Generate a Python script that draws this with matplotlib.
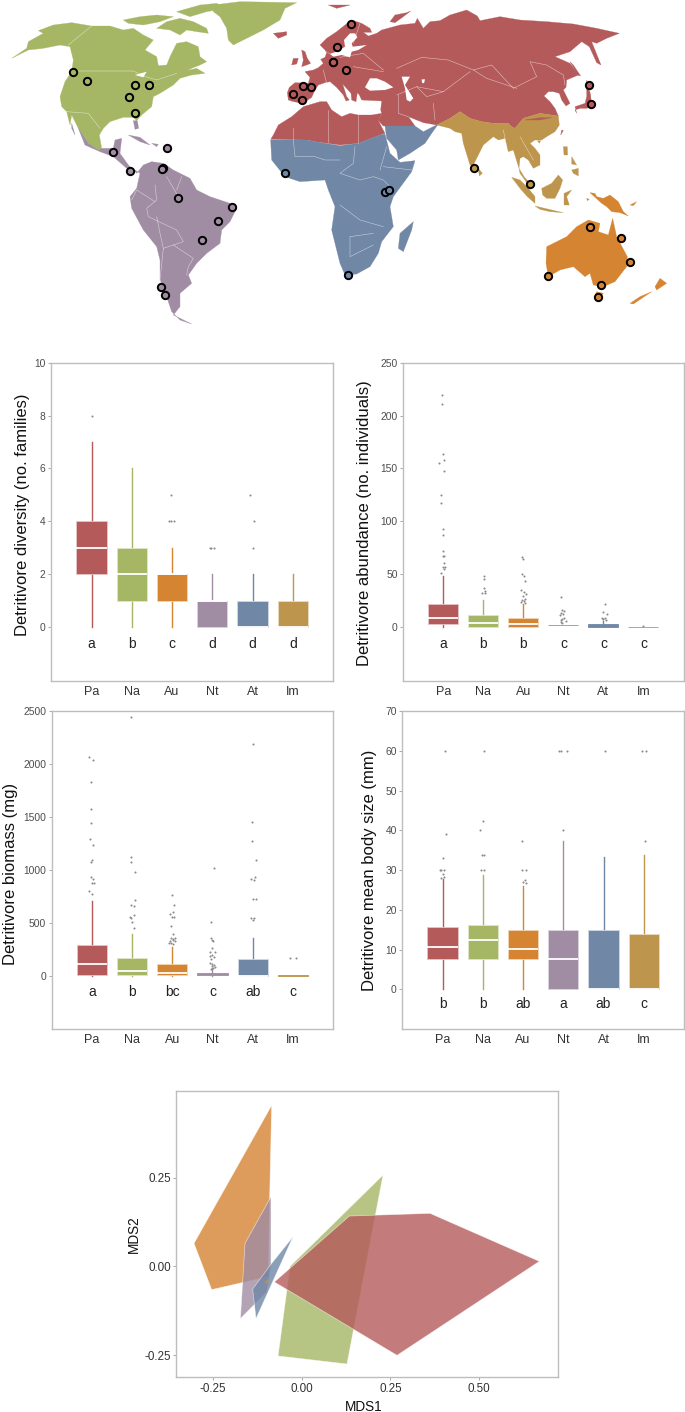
import matplotlib
matplotlib.use("Agg")
import matplotlib.pyplot as plt
from matplotlib.patches import Polygon

plt.rcParams["font.family"] = ["Liberation Sans", "DejaVu Sans"]

FIG_W, FIG_H = 685, 1412

realms = ["Pa", "Na", "Au", "Nt", "At", "Im"]
colors = {"Pa": "#B55A5A", "Na": "#A5B765", "Au": "#D58432",
          "Nt": "#A08CA3", "At": "#7087A6", "Im": "#BD954C"}
tints = {"Pa": "#E7C6C6", "Na": "#E0E6C8", "Au": "#F1D3B4",
         "Nt": "#DCD4DE", "At": "#D0D8E3", "Im": "#EADCC0"}

# box stats per realm: q1, median, q3, whisker low, whisker high
div_stats = [(2, 3, 4, 0, 7), (1, 2, 3, 0, 6), (1, 2, 2, 0, 3),
             (0, 1, 1, 0, 2), (0, 0, 1, 0, 2), (0, 0, 1, 0, 2)]
abu_stats = [(3, 9, 21.5, 0, 48), (0.5, 4, 11.5, 0, 25.5), (0.5, 3, 9, 0, 22),
             (1.6, 1.6, 2, 1.6, 2), (0.5, 1, 2.5, 0, 6), (0, 0, 0.2, 0, 0.2)]
bio_stats = [(10, 115, 288, 0, 710), (5, 48, 165, 0, 395), (5, 28, 112, 0, 275),
             (10, 18, 28, 0, 70), (0, 2, 160, 0, 360), (0, 0, 8, 0, 8)]
siz_stats = [(7.6, 10.7, 15.6, 0, 27.8), (7.6, 12.4, 16.3, 0, 28.7), (7.6, 10.1, 15, 0, 26.1),
             (0, 7.6, 15, 0, 37.4), (0, 0.2, 15, 0, 33.2), (0, 0, 13.9, 0, 33.7)]

# outliers per realm: (jitter offset, value)
div_out = [[(0, 8)], [],
           [(-0.02, 5), (-0.07, 4), (-0.02, 4), (0.04, 4)],
           [(-0.06, 3), (-0.02, 3), (0.04, 3)],
           [(-0.07, 5), (0.04, 4), (0, 3)], []]
abu_out = [[(-.042, 219), (-.033, 211), (0, 164), (.008, 158), (-.1, 155), (.008, 148), (-.067, 125),
            (-.067, 117), (0, 93), (0, 87), (-.017, 72), (0, 67), (.025, 67), (.017, 61), (-.058, 51),
            (-.017, 57), (.042, 57), (.017, 55)],
           [(.008, 48), (.008, 45), (.008, 37), (.033, 34), (-.025, 32), (.042, 32)],
           [(-.042, 66), (0, 64), (-.042, 50), (.008, 48), (.05, 44), (-.067, 35), (.017, 33), (.067, 31),
            (-.017, 29), (.042, 27), (-.042, 26), (.017, 25), (-.058, 24), (.05, 23)],
           [(-.05, 28), (-.025, 16), (.025, 15), (-.067, 13), (0, 12), (-.083, 11), (-.042, 8), (.017, 9),
            (-.067, 7), (.058, 6), (-.05, 5), (-.025, 3.5)],
           [(.042, 22), (0, 14), (.1, 12), (-.042, 9), (.042, 9), (0, 8), (.067, 7)],
           [(0, 1.3)]]
bio_out = [[(-.075, 2069), (.017, 2043), (-.033, 1829), (-.017, 1574), (-.025, 1448), (-.042, 1294),
            (.033, 1237), (.008, 1099), (-.017, 1080), (-.017, 938), (.017, 916), (.008, 875), (.058, 875),
            (-.083, 803), (0, 771)],
           [(-.025, 2443), (-.033, 1121), (-.033, 1074), (.083, 979), (-.025, 671), (.083, 712), (.042, 658),
            (-.058, 560), (.042, 576), (-.033, 548), (0, 507), (.042, 453)],
           [(0, 765), (.05, 671), (.008, 601), (-.058, 586), (-.017, 560), (.033, 554), (-.033, 466), (.025, 394),
            (-.042, 356), (.017, 349), (.067, 356), (-.05, 324), (.008, 334), (.067, 324), (-.092, 309),
            (-.025, 309), (.025, 299)],
           [(.042, 1017), (-.025, 507), (-.042, 356), (-.008, 340), (.008, 324), (0, 261), (-.05, 220), (.067, 220),
            (-.058, 183), (-.008, 198), (.05, 176), (-.025, 157), (-.058, 120), (0, 110), (.042, 98), (-.017, 88),
            (.067, 82), (-.033, 63), (.025, 72)],
           [(.017, 2191), (-.008, 1458), (-.008, 1275), (.075, 1093), (.05, 932), (-.033, 913), (.033, 907),
            (.017, 727), (.075, 721), (-.033, 545), (.025, 545), (0, 523)],
           [(-.058, 167), (.067, 167)]]
siz_out = [[(.05, 60), (.083, 39), (.017, 33), (-.075, 30), (-.033, 30), (.033, 30), (0, 29), (.025, 28.4), (-.042, 28)],
           [(.042, 60), (.008, 42.5), (-.058, 40), (-.025, 33.7), (.042, 33.7), (-.033, 30), (.042, 30)],
           [(-.017, 37.4), (-.033, 30), (.075, 30), (0, 27), (.058, 27.4), (.083, 26.8)],
           [(-.1, 60), (-.058, 60), (.083, 60), (-.017, 40)],
           [(.033, 60)],
           [(-.033, 60), (.067, 60), (.025, 37.4)]]

div_letters = ["a", "b", "c", "d", "d", "d"]
abu_letters = ["a", "b", "b", "c", "c", "c"]
bio_letters = ["a", "b", "bc", "c", "ab", "c"]
siz_letters = ["b", "b", "ab", "a", "ab", "c"]

# MDS hulls
mds_au = [(-0.0846, 0.454), (-0.3036, 0.0648), (-0.2538, -0.0658), (-0.094, -0.029), (-0.0902, 0.1945)]
mds_nt = [(-0.0865, 0.1964), (-0.1598, 0.0648), (-0.1729, -0.1476), (-0.0987, -0.0724), (-0.0865, -0.0009)]
mds_at = [(-0.0244, 0.0836), (-0.0846, 0.0085), (-0.1382, -0.0639), (-0.1288, -0.1476), (-0.0893, -0.06)]
mds_im = [(-0.106, -0.046), (-0.094, -0.036), (-0.09, -0.04), (-0.102, -0.049)]
mds_na = [(0.2293, 0.2575), (-0.0329, 0.0), (-0.0667, -0.2528), (0.1278, -0.2754)]
mds_pa = [(-0.0771, -0.0442), (0.1344, 0.1419), (0.3618, 0.1494), (0.6701, 0.0141), (0.2688, -0.2509)]

# map outlines, traced at 3x the picture
# west_ starts at px (0, 0), nam_ at (10, 0), east_ at (340, 0), sea_ at (440, 90)
nam_main = [(5, 175), (50, 145), (55, 125), (100, 100), (85, 92), (130, 75), (185, 68), (245, 78), (300, 78), (340, 90),
            (370, 85), (400, 105), (430, 120), (405, 150), (440, 170), (445, 197), (470, 195), (480, 170), (500, 130),
            (530, 125), (565, 140), (570, 170), (590, 185), (570, 195), (545, 205), (530, 212), (515, 215), (560, 205),
            (585, 220), (545, 225), (510, 235), (490, 255), (450, 280), (430, 290), (425, 320), (395, 345), (380, 362),
            (370, 352), (340, 352), (300, 365), (280, 385), (268, 405), (275, 445), (265, 450), (235, 430), (205, 385),
            (185, 345), (180, 375), (170, 335), (155, 320), (150, 290), (165, 245), (185, 215), (190, 180), (180, 140),
            (150, 135), (100, 145), (55, 150)]
west_arctic = [[(370, 60), (420, 50), (470, 45), (520, 50), (480, 65), (430, 75), (385, 70)],
               [(470, 85), (500, 65), (540, 55), (580, 65), (620, 85), (625, 100), (590, 95), (560, 90), (540, 105), (510, 90)],
               [(530, 35), (600, 15), (650, 10), (680, 25), (620, 35), (570, 50)],
               [(640, 15), (720, 5), (890, 8), (855, 25), (840, 60), (790, 90), (740, 115), (700, 135), (685, 120), (680, 85),
                (660, 50), (640, 35)]]
west_nt = [[(215, 370), (225, 405), (215, 385)],
           [(400, 362), (412, 362), (416, 385), (405, 388)],
           [(235, 385), (265, 430), (295, 450), (305, 445), (340, 445), (345, 420), (365, 415),
            (360, 460), (385, 495), (410, 520), (430, 495), (455, 485), (490, 490), (520, 510), (570, 535), (590, 570),
            (630, 590), (690, 610), (710, 625), (690, 665), (665, 690), (660, 730), (620, 760), (590, 790), (565, 825),
            (575, 850), (540, 880), (540, 920), (520, 945), (575, 972), (540, 960), (515, 935), (500, 890), (480, 840),
            (480, 780), (470, 740), (430, 690), (395, 625), (390, 590), (410, 565), (420, 520), (405, 510), (380, 505),
            (340, 470), (300, 455), (255, 435)]]
west_caribbean = [[(385, 405), (420, 412), (450, 435), (420, 425)], [(455, 430), (475, 433), (470, 440)]]
nam_lakes = [[(375, 225), (410, 215), (400, 232)], [(400, 265), (440, 255), (460, 245), (425, 262)]]

east_pa = [(-155, 300), (-158, 278), (-152, 262), (-135, 248), (-95, 250), (-90, 232), (-105, 215), (-80, 210), (-65, 203),
           (-50, 190), (-58, 178), (-45, 172), (-40, 158), (-45, 150), (-50, 145), (-60, 135), (-40, 115), (-10, 95), (15, 75),
           (35, 60), (65, 70), (90, 85), (95, 97), (70, 97), (85, 108), (110, 100), (125, 90), (180, 75), (225, 70), (232, 55),
           (250, 85), (270, 65), (300, 62), (330, 45), (380, 30), (412, 48), (420, 62), (480, 50), (540, 60), (620, 65),
           (700, 72), (770, 85), (838, 100), (800, 115), (770, 130), (755, 125), (783, 195), (770, 188), (748, 140), (725, 125),
           (690, 155), (645, 170), (690, 190), (715, 225), (680, 240), (678, 262), (670, 270), (690, 310), (678, 318), (665, 300),
           (658, 280), (640, 275), (625, 275), (612, 288), (630, 305), (645, 325), (655, 348), (600, 340), (550, 355), (525, 385),
           (515, 380), (505, 370), (460, 370), (425, 365), (390, 355), (360, 335), (330, 355), (290, 375), (250, 368), (205, 350),
           (225, 378), (130, 378), (115, 362), (125, 340), (122, 330), (125, 303), (65, 300), (58, 285), (52, 278), (48, 305),
           (35, 300), (33, 280), (8, 252), (20, 290), (28, 300), (18, 303), (10, 285), (-10, 262), (-30, 245), (-45, 248),
           (-65, 255), (-75, 270), (-85, 292), (-110, 310), (-140, 305)]
east_pa_africa = [(-208, 418), (-200, 405), (-185, 375), (-145, 350), (-110, 320), (-60, 305), (-40, 305), (-25, 330), (5, 350),
                  (30, 340), (55, 345), (95, 345), (125, 340), (115, 362), (135, 400), (120, 405), (55, 430), (0, 435), (-75, 425),
                  (-100, 420)]
east_pa_isles = [[(-115, 150), (-105, 155), (-98, 175), (-88, 190), (-100, 195), (-115, 200), (-110, 180)],
                 [(-140, 175), (-125, 175), (-130, 192), (-145, 195)],
                 [(-200, 100), (-160, 95), (-160, 105), (-185, 115)],
                 [(150, 65), (165, 45), (200, 38), (212, 33), (190, 50), (165, 68)],
                 [(-35, 15), (30, 15), (-10, 25)],
                 [(690, 185), (700, 195), (722, 228), (712, 225)],
                 [(740, 240), (752, 285), (755, 320), (740, 325), (720, 325), (705, 330), (710, 340), (705, 320), (735, 310), (740, 290)]]
east_seas = [[(-45, 150), (-32, 162), (-10, 155), (15, 140), (12, 120), (30, 100), (45, 100), (52, 112), (35, 130), (38, 140), (80, 135),
              (55, 150), (35, 155), (30, 172), (5, 165), (-20, 170)],
             [(75, 262), (90, 235), (110, 235), (135, 245), (160, 262), (135, 270), (90, 272)],
             [(185, 230), (210, 230), (195, 255), (220, 295), (210, 305), (200, 300), (195, 265)],
             [(245, 238), (255, 238), (252, 250), (246, 248)]]

east_at = [(-208, 420), (-100, 420), (-75, 425), (0, 437), (55, 430), (120, 405), (135, 402), (150, 460), (180, 487), (225, 482),
           (215, 515), (160, 590), (150, 620), (160, 680), (125, 725), (115, 760), (90, 800), (50, 822), (15, 825), (0, 790),
           (-25, 690), (-15, 620), (-35, 570), (-45, 540), (-120, 545), (-165, 530), (-205, 480)]
east_at_arabia = [(135, 378), (225, 378), (250, 395), (295, 372), (275, 400), (255, 430), (210, 460), (175, 480), (170, 450), (140, 415)]
east_at_madagascar = [(220, 665), (215, 690), (190, 755), (175, 745), (180, 700)]

sea_im = [(-10, 105), (30, 85), (60, 65), (90, 85), (125, 95), (160, 100), (205, 100), (215, 110), (225, 115), (250, 85), (300, 70),
          (355, 78), (358, 105), (345, 125), (320, 140), (305, 150), (285, 150), (270, 160), (285, 175), (300, 195), (300, 225),
          (280, 235), (265, 210), (250, 200), (240, 205), (237, 235), (220, 180), (205, 185), (195, 145), (175, 150), (160, 140),
          (130, 165), (115, 195), (100, 225), (90, 225), (70, 160), (65, 130), (45, 125), (30, 115)]
sea_im_isles = [[(237, 235), (252, 260), (275, 285), (262, 280), (240, 250)],
                [(115, 235), (127, 250), (118, 258)],
                [(215, 262), (240, 270), (265, 295), (285, 320), (285, 340), (262, 320), (240, 295)],
                [(285, 348), (335, 360), (370, 368), (330, 365), (300, 358)],
                [(305, 295), (335, 280), (355, 255), (368, 270), (360, 295), (345, 325), (320, 325), (308, 315)],
                [(372, 310), (395, 300), (380, 320), (388, 345), (372, 345)],
                [(370, 170), (382, 170), (383, 195), (372, 195)],
                [(395, 240), (415, 235), (415, 258), (400, 250)],
                [(395, 200), (410, 225), (395, 222)],
                [(292, 152), (302, 152), (298, 160)]]
sea_pa_isles = [[(255, 90), (300, 83), (335, 83), (300, 90)],
                [(365, 120), (370, 122), (362, 135)]]
east_au = [(620, 740), (680, 710), (710, 680), (745, 660), (780, 670), (775, 695), (805, 705), (818, 655), (830, 710), (862, 770),
           (860, 800), (825, 845), (790, 860), (760, 855), (750, 820), (735, 830), (700, 800), (660, 810), (625, 830), (618, 790)]
east_au_isles = [[(770, 875), (790, 880), (775, 900), (765, 885)],
                 [(960, 835), (980, 850), (950, 870), (945, 860)],
                 [(935, 875), (880, 912), (870, 910), (900, 890)]]
sea_au_isles = [[(450, 308), (465, 310), (470, 320), (490, 325), (510, 315), (535, 335), (550, 365), (565, 378), (540, 368),
                 (515, 365), (500, 350), (485, 340)],
                [(440, 325), (448, 328), (442, 332)],
                [(570, 345), (590, 335), (580, 347)]]

west_borders = [[(215, 213), (400, 213), (430, 228), (470, 240), (530, 220)],
                [(275, 78), (205, 135)],
                [(200, 335), (265, 340), (300, 385)],
                [(465, 555), (470, 600), (440, 625), (445, 650), (530, 690), (550, 725), (520, 735), (490, 745), (480, 840), (500, 890)],
                [(395, 600), (410, 570), (465, 605)],
                [(520, 735), (580, 775), (565, 800), (560, 825)],
                [(500, 530), (535, 590)], [(545, 530), (530, 570)], [(470, 650), (480, 700), (490, 745)]]
east_borders = [[(-140, 385), (-140, 420), (-135, 470), (-75, 470), (-45, 480), (0, 480)],
                [(-35, 330), (-35, 425)], [(55, 345), (55, 430)],
                [(45, 440), (40, 490), (0, 520), (60, 540), (100, 530), (130, 540), (150, 560)],
                [(120, 510), (140, 440)], [(130, 500), (215, 510)],
                [(0, 615), (60, 660), (130, 680)], [(30, 710), (100, 700)], [(30, 710), (30, 770), (100, 735)],
                [(170, 205), (245, 172), (325, 180), (400, 210), (455, 195), (520, 265), (590, 230), (570, 185), (620, 195), (670, 225), (675, 255)],
                [(400, 210), (440, 235), (530, 265)],
                [(170, 285), (230, 260), (310, 275), (390, 215)],
                [(280, 310), (285, 360)], [(230, 260), (260, 290), (310, 275)],
                [(0, 172), (70, 160), (130, 210)], [(40, 200), (130, 215)], [(-50, 210), (-40, 250)], [(60, 70), (40, 130)],
                [(175, 285), (175, 340), (205, 350)],
                [(490, 390), (500, 440)], [(540, 410), (580, 480)]]

# sample sites, same tracing as above
west_sites = {"Na": [(219, 217), (260, 242), (404, 256), (447, 254), (388, 292), (406, 340)],
              "Nt": [(500, 444), (339, 456), (488, 505), (486, 506), (391, 514), (533, 595), (695, 622), (654, 664),
                     (606, 720), (482, 861), (495, 884)],
              "At": [(855, 520)],
              "Pa": [(1012, 142), (998, 185), (1000, 185), (910, 258), (932, 262), (878, 282), (905, 300)]}
east_sites = {"Pa": [(34, 71), (17, 210), (747, 255), (752, 311)],
              "Im": [(402, 504), (570, 553)],
              "At": [(135, 576), (147, 571), (24, 826)],
              "Au": [(749, 682), (842, 713), (870, 786), (625, 828), (782, 854), (775, 892)]}


def axes_px(fig, left, top, right, bottom):
    return fig.add_axes([left / FIG_W, 1 - bottom / FIG_H, (right - left) / FIG_W, (bottom - top) / FIG_H])


def shift(points, ox, oy=0):
    return [(x + 3 * ox, y + 3 * oy) for x, y in points]


def style_frame(ax):
    for sp in ax.spines.values():
        sp.set_color("#BDBDBD")
        sp.set_linewidth(1.0)
    ax.tick_params(axis="y", color="#9A9A9A", length=2.5, width=0.6, labelsize=7.4, labelcolor="#4D4D4D", pad=1.5)


def draw_panel(ax, stats, outliers, letters, letter_y, ylim, yticks, ylabel, label_x, label_y):
    bxp_stats = [dict(q1=q1, med=med, q3=q3, whislo=lo, whishi=hi, fliers=[])
                 for q1, med, q3, lo, hi in stats]
    res = ax.bxp(bxp_stats, positions=range(1, 7), widths=0.75, patch_artist=True,
                 showcaps=False, showfliers=False, manage_ticks=False)
    span = ylim[1] - ylim[0]
    for i, name in enumerate(realms):
        # boxes only a few pixels high would vanish under the pale edge and the median
        thin = (stats[i][2] - stats[i][0]) / span < 0.012
        res["boxes"][i].set(facecolor=colors[name], edgecolor=colors[name] if thin else tints[name],
                            linewidth=0.6, zorder=3)
        res["medians"][i].set(color="white", linewidth=1.3, zorder=4, solid_capstyle="butt", visible=not thin)
        for w in res["whiskers"][2 * i: 2 * i + 2]:
            w.set(color=colors[name], linewidth=1.0, zorder=2)
        if outliers[i]:
            ax.scatter([i + 1 + o for o, _ in outliers[i]], [v for _, v in outliers[i]],
                       s=2.2, color="#8A8A8A", linewidths=0, zorder=2)
        ax.text(i + 1, letter_y, letters[i], ha="center", va="center", fontsize=10, color="#222222")
    ax.set_xlim(0, 7)
    ax.set_ylim(*ylim)
    ax.set_yticks(yticks)
    ax.set_xticks(range(1, 7))
    ax.set_xticklabels(realms)
    style_frame(ax)
    ax.tick_params(axis="x", length=0, labelsize=9, labelcolor="#333333", pad=3.5)
    ax.set_ylabel(ylabel, fontsize=12, color="#111111")
    ax.yaxis.set_label_coords(label_x, label_y)


fig = plt.figure(figsize=(FIG_W / 100, FIG_H / 100), dpi=100)

# map
mp = axes_px(fig, 0, 0, FIG_W, 335)
mp.set_xlim(0, FIG_W * 3)
mp.set_ylim(335 * 3, 0)
mp.axis("off")


def land(points, name, z=2):
    mp.add_patch(Polygon(points, closed=True, facecolor=colors[name], edgecolor=colors[name], linewidth=0.2, zorder=z))


land(shift(nam_main, 10), "Na")
for part in west_arctic:
    land(part, "Na")
for part in west_nt + west_caribbean:
    land(part, "Nt")
land(shift(east_pa, 340), "Pa")
land(shift(east_pa_africa, 340), "Pa")
for part in east_pa_isles:
    land(shift(part, 340), "Pa")
land(shift(east_at, 340), "At")
land(shift(east_at_arabia, 340), "At")
land(shift(east_at_madagascar, 340), "At")
land(shift(sea_im, 440, 90), "Im")
for part in sea_im_isles:
    land(shift(part, 440, 90), "Im")
for part in sea_pa_isles:
    land(shift(part, 440, 90), "Pa", z=3)
land(shift(east_au, 340), "Au")
for part in east_au_isles:
    land(shift(part, 340), "Au")
for part in sea_au_isles:
    land(shift(part, 440, 90), "Au")
for part in [shift(s, 10) for s in nam_lakes] + [shift(s, 340) for s in east_seas]:
    mp.add_patch(Polygon(part, closed=True, facecolor="white", edgecolor="none", zorder=3))
for line in west_borders + [shift(b, 340) for b in east_borders]:
    mp.plot([p[0] for p in line], [p[1] for p in line], color="white", linewidth=0.4, alpha=0.6, zorder=4)
for name, pts in west_sites.items():
    mp.scatter([p[0] for p in pts], [p[1] for p in pts], s=28, facecolor=colors[name], edgecolor="black", linewidths=1.4, zorder=5)
for name, pts in east_sites.items():
    pts = shift(pts, 340)
    mp.scatter([p[0] for p in pts], [p[1] for p in pts], s=28, facecolor=colors[name], edgecolor="black", linewidths=1.4, zorder=5)

# box plots
ax1 = axes_px(fig, 51.3, 362.7, 333, 680.7)
draw_panel(ax1, div_stats, div_out, div_letters, -0.64, (-2.03, 10), [0, 2, 4, 6, 8, 10],
           "Detritivore diversity (no. families)", -0.075, 0.521)
ax2 = axes_px(fig, 403.3, 362.7, 683.5, 680.7)
draw_panel(ax2, abu_stats, abu_out, abu_letters, -16, (-50.7, 250), [0, 50, 100, 150, 200, 250],
           "Detritivore abundance (no. individuals)", -0.110, 0.495)
ax3 = axes_px(fig, 51.7, 711.3, 333, 1029.3)
draw_panel(ax3, bio_stats, bio_out, bio_letters, -157, (-506, 2500), [0, 500, 1000, 1500, 2000, 2500],
           "Detritivore biomass (mg)", -0.121, 0.487)
ax4 = axes_px(fig, 402.3, 711.3, 684, 1029.3)
draw_panel(ax4, siz_stats, siz_out, siz_letters, -3.7, (-10.07, 70), [0, 10, 20, 30, 40, 50, 60, 70],
           "Detritivore mean body size (mm)", -0.089, 0.5)

# ordination
ax5 = axes_px(fig, 176.3, 1091.3, 557.7, 1377)
for pts, name, z in [(mds_au, "Au", 2), (mds_nt, "Nt", 3), (mds_at, "At", 4), (mds_im, "Im", 5),
                     (mds_na, "Na", 2), (mds_pa, "Pa", 3)]:
    ax5.add_patch(Polygon(pts, closed=True, facecolor=matplotlib.colors.to_rgba(colors[name], 0.8),
                          edgecolor=(1, 1, 1, 0.6), linewidth=0 if name == "Im" else 0.5, zorder=z))
ax5.set_xlim(-0.3535, 0.7217)
ax5.set_ylim(-0.312, 0.4935)
ax5.set_xticks([-0.25, 0, 0.25, 0.5])
ax5.set_xticklabels(["-0.25", "0.00", "0.25", "0.50"])
ax5.set_yticks([-0.25, 0, 0.25])
ax5.set_yticklabels(["-0.25", "0.00", "0.25"])
style_frame(ax5)
ax5.tick_params(axis="both", color="#9A9A9A", length=2.5, width=0.6, labelsize=8.4, labelcolor="#333333", pad=1.5)
ax5.set_xlabel("MDS1", fontsize=9.8, color="#111111")
ax5.set_ylabel("MDS2", fontsize=9.8, color="#111111")
ax5.xaxis.set_label_coords(0.492, -0.08)
ax5.yaxis.set_label_coords(-0.094, 0.5)

fig.savefig("out.png", dpi=100)
